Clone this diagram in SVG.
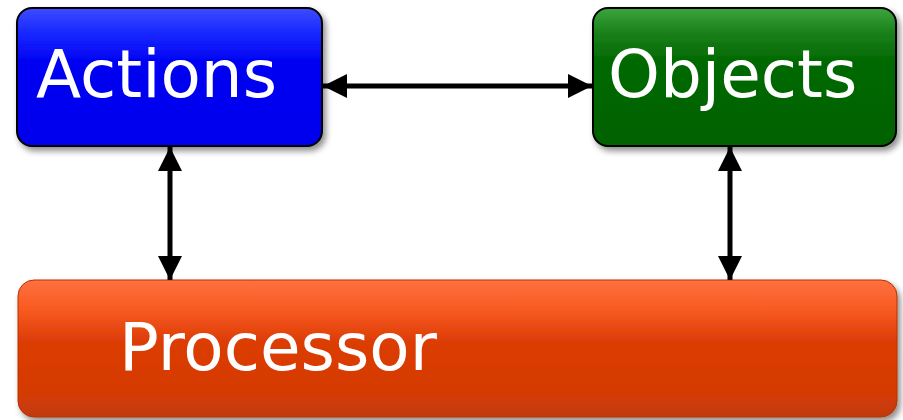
<svg xmlns="http://www.w3.org/2000/svg" width="903" height="420" viewBox="0 0 903 420">
<defs>
<linearGradient id="gBlue" x1="0" y1="0" x2="0" y2="1">
<stop offset="0" stop-color="#3c4cff"/><stop offset="0.18" stop-color="#1828ff"/><stop offset="0.4" stop-color="#0000f2"/><stop offset="1" stop-color="#0000ee"/>
</linearGradient>
<linearGradient id="gGreen" x1="0" y1="0" x2="0" y2="1">
<stop offset="0" stop-color="#3da53d"/><stop offset="0.18" stop-color="#1a801a"/><stop offset="0.4" stop-color="#006800"/><stop offset="1" stop-color="#006200"/>
</linearGradient>
<linearGradient id="gOrange" x1="0" y1="0" x2="0" y2="1">
<stop offset="0" stop-color="#ff7040"/><stop offset="0.22" stop-color="#f85a20"/><stop offset="0.45" stop-color="#dc3c06"/><stop offset="0.85" stop-color="#d43a06"/><stop offset="1" stop-color="#bf3a12"/>
</linearGradient>
<filter id="sh" x="-5%" y="-5%" width="115%" height="130%">
<feGaussianBlur in="SourceAlpha" stdDeviation="3"/>
<feOffset dx="3" dy="4"/>
<feComponentTransfer><feFuncA type="linear" slope="0.45"/></feComponentTransfer>
<feMerge><feMergeNode/><feMergeNode in="SourceGraphic"/></feMerge>
</filter>
<marker id="ah" viewBox="0 0 24 24" refX="24" refY="12" markerWidth="24" markerHeight="24" orient="auto-start-reverse" markerUnits="userSpaceOnUse">
<path d="M0,0 L24,12 L0,24 z" fill="#000"/>
</marker>
</defs>
<style>
.box{stroke:#000;stroke-width:2}
.lbl{font-family:"DejaVu Sans",Verdana,sans-serif;font-size:66px;fill:#fff}
.conn{stroke:#000;stroke-width:5;fill:none}
</style>
<g id="processor" filter="url(#sh)">
<rect x="18" y="280" width="879" height="137" rx="16" fill="url(#gOrange)" stroke="#b83200" stroke-width="1"/>
<text class="lbl" x="119" y="370">Processor</text>
</g>
<g id="actions" filter="url(#sh)">
<rect class="box" x="17" y="8" width="305" height="138" rx="15" fill="url(#gBlue)"/>
<text class="lbl" x="36" y="97">Actions</text>
</g>
<g id="objects" filter="url(#sh)">
<rect class="box" x="593" y="8" width="303" height="138" rx="15" fill="url(#gGreen)"/>
<text class="lbl" x="608" y="97">Objects</text>
</g>
<g id="connectors">
<line class="conn" x1="323" y1="86" x2="592" y2="86" marker-start="url(#ah)" marker-end="url(#ah)"/>
<line class="conn" x1="170" y1="147" x2="170" y2="280" marker-start="url(#ah)" marker-end="url(#ah)"/>
<line class="conn" x1="730" y1="147" x2="730" y2="280" marker-start="url(#ah)" marker-end="url(#ah)"/>
</g>
</svg>
